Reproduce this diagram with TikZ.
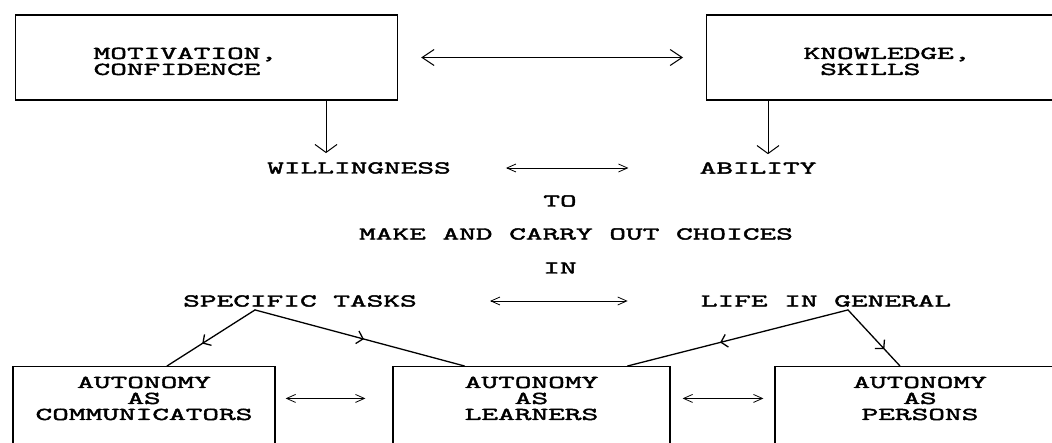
\documentclass[tikz,border=0pt]{standalone}
\usepackage{fontspec}
\setmonofont[FakeStretch=1.8, FakeBold=2.5]{Latin Modern Mono}
\usetikzlibrary{arrows.meta,decorations.markings}

\tikzset{
  word/.style={font=\ttfamily\fontsize{18}{16}\selectfont, inner sep=3pt},
  topbox/.style={draw, line width=1.2pt, word, anchor=west, align=left, minimum height=85pt,
    execute at begin node={\rule{0pt}{19pt}}},
  lowbox/.style={draw, line width=1.2pt, anchor=north, minimum height=110pt},
  lowtext/.style={word, anchor=north, align=center, yshift=-7.5pt},
  bigtip/.style={{Straight Barb[length=12pt,width=16pt]}-{Straight Barb[length=12pt,width=16pt]}, line width=1pt},
  dropline/.style={-{Straight Barb[length=8pt,width=22pt]}, line width=1pt},
  dbl/.style={{Straight Barb[length=9pt,width=8pt]}-{Straight Barb[length=9pt,width=8pt]}, line width=0.8pt},
  branch/.style={line width=1.3pt, line cap=round, postaction={decorate},
    decoration={markings, mark=at position #1 with {\arrow{Straight Barb[length=6pt,width=13pt]}}}}
}

\begin{document}
\begin{tikzpicture}[x=1pt,y=-1pt]
  \useasboundingbox (0,0) rectangle (1052,443);

  % top row
  \node[topbox, inner xsep=78pt, text width=226pt] (motiv) at (15,57.5) {MOTIVATION,\\CONFIDENCE};
  \node[topbox, inner xsep=97pt, text width=170pt] (know) at (706,57.5) {KNOWLEDGE,\\\phantom{K}SKILLS};
  \draw[bigtip, shorten <=23pt, shorten >=23pt] (motiv) -- (know);

  % middle words
  \node[word] (will) at (359,168) {WILLINGNESS};
  \node[word] (abil) at (758,168) {ABILITY};
  \node[word] (toword) at (560,201) {TO};
  \node[word] (choice) at (576,234) {MAKE AND CARRY OUT CHOICES};
  \node[word] (inword) at (560,268) {IN};
  \node[word] (spec) at (300,301) {SPECIFIC TASKS};
  \node[word] (life) at (826,301) {LIFE IN GENERAL};

  \coordinate (wtip) at ([xshift=-33pt]will.north);
  \coordinate (atip) at ([xshift=10pt]abil.north);
  \draw[dropline, shorten >=6pt] (wtip |- motiv.south) -- (wtip);
  \draw[dropline, shorten >=5pt] (atip |- know.south) -- (atip);
  \draw[dbl, shorten <=52pt, shorten >=68pt] (will) -- (abil);
  \draw[dbl, shorten <=70pt, shorten >=70pt] (spec) -- (life);

  % bottom row
  \node[lowbox, minimum width=262pt,
    label={[lowtext, name=commtxt]north:{AUTONOMY\\AS\\COMMUNICATORS}}] (comm) at (144,366) {};
  \node[lowbox, minimum width=277pt,
    label={[lowtext, name=learntxt]north:{AUTONOMY\\AS\\LEARNERS}}] (learn) at (531.5,366) {};
  \node[lowbox, minimum width=290pt,
    label={[lowtext, name=perstxt]north:{AUTONOMY\\AS\\PERSONS}}] (pers) at (920,366) {};

  \draw[dbl, shorten <=10pt, shorten >=27pt] (comm.east |- commtxt) -- (learn.west |- commtxt);
  \draw[dbl, shorten <=12pt, shorten >=11pt] (learn.east |- learntxt) -- (pers.west |- learntxt);

  \draw[branch=0.6] ([xshift=-45pt]spec.south) -- ([xshift=23pt]comm.north);
  \draw[branch=0.52] ([xshift=-45pt]spec.south) -- ([xshift=-67pt]learn.north);
  \draw[branch=0.58] ([xshift=22pt]life.south) -- ([xshift=96pt]learn.north);
  \draw[branch=0.7] ([xshift=22pt]life.south) -- ([xshift=-20pt]pers.north);
\end{tikzpicture}
\end{document}
